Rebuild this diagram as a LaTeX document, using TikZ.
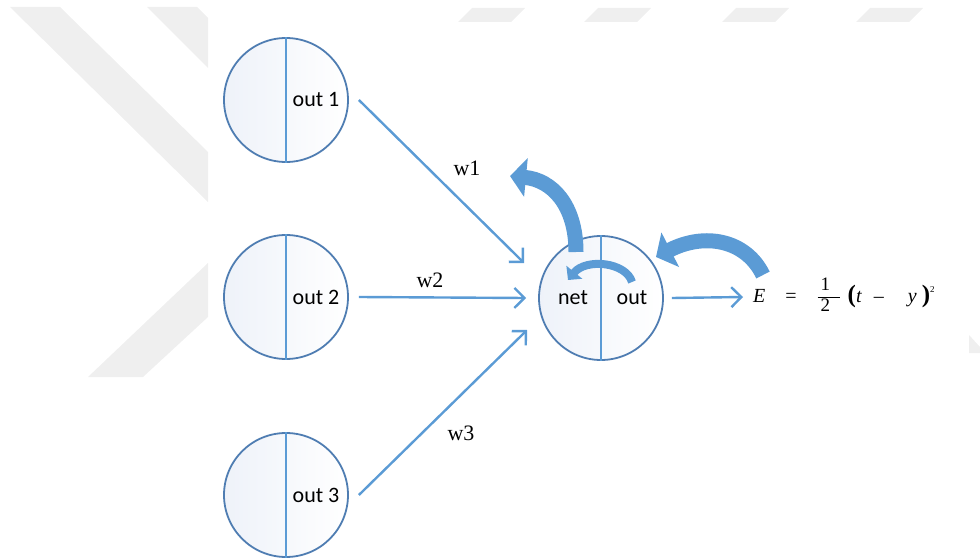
\documentclass[tikz,border=0pt]{standalone}
\usepackage{fontspec}
\setmainfont{Liberation Serif}
\newfontfamily\calibri{Carlito}
\usepackage{xcolor}
\definecolor{rimblue}{RGB}{79,125,178}
\definecolor{wireblue}{RGB}{91,155,213}
\definecolor{cellfill}{RGB}{238,242,249}
\definecolor{markgray}{RGB}{239,239,239}
\usetikzlibrary{arrows.meta, positioning, calc}

\tikzset{
  neuron/.style={circle, minimum size=124pt, inner sep=0pt, draw=rimblue, line width=1.8pt,
    left color=cellfill, right color=white},
  divider/.style={line width=2.4pt, color=wireblue},
  wire/.style={-{Straight Barb[length=10pt,width=20pt]}, line width=2.4pt, color=wireblue},
  bendarrow/.style={-{Triangle[length=16pt,width=38pt]}, line width=15pt, color=wireblue},
  cellname/.style={font=\calibri\fontsize{22}{26}\selectfont},
  wlabel/.style={font=\fontsize{22}{26}\selectfont}
}
\newcommand{\digit}[1]{\makebox[22pt][l]{\hspace{3pt}\fontsize{19}{19}\selectfont #1}}
\newcommand{\half}{{\setlength{\arrayrulewidth}{0.9pt}\renewcommand{\arraystretch}{0.85}%
  \begin{tabular}{@{}l@{}}\digit{1}\\\hline\digit{2}\end{tabular}}}

\begin{document}
\begin{tikzpicture}[x=1pt, y=1pt]
    \useasboundingbox (0,0) rectangle (980,558);

    % Watermark stripes behind the figure
    \fill[markgray] (10,551) -- (60,551) -- (208,406) -- (208,356) -- cycle;
    \fill[markgray] (147,551) -- (197,551) -- (208,540) -- (208,490) -- cycle;
    \fill[markgray] (208,295) -- (208,241) -- (143,181) -- (88,181) -- cycle;
    \foreach \a in {472,598,736,870} {
        \fill[markgray] (\a,550) -- ({\a+53},550) -- ({\a+39},536) -- ({\a-14},536) -- cycle;
    }
    \fill[markgray] (969,223) -- (980,211) -- (980,205) -- (969,205) -- cycle;

    % Cells
    \node[neuron] (in1) at (286,458) {};
    \node[neuron] (in2) at (286,261) {};
    \node[neuron] (in3) at (286,63) {};
    \node[neuron] (sum) at (601,260) {};
    \foreach \n in {in1,in2,in3,sum} {
        \draw[divider] (\n.north) -- (\n.south);
    }
    \foreach \n/\k in {in1/1, in2/2, in3/3} {
        \node[cellname] (lab\k) at ([xshift=30pt]\n.center) {out \k};
    }
    \node[cellname] (netlab) at ([xshift=-28pt]sum.center) {net};
    \node[cellname] (outlab) at ([xshift=31pt]sum.center) {out};

    % Error term
    \node[anchor=west, inner sep=0pt, font=\fontsize{20}{24}\selectfont] (eq) at (753,261)
        {\textit{E}\hspace{20pt}=\hspace{21pt}\half\hspace{8pt}{\fontsize{25}{25}\selectfont\textbf{(}}\textit{t}\hspace{12pt}--\hspace{24pt}\textit{y}\hspace{5pt}{\fontsize{25}{25}\selectfont\textbf{)}}\raisebox{10pt}{\fontsize{9}{9}\selectfont 2}};

    % Weighted connections
    \draw[wire] ([xshift=10pt]in1.east) -- ([shift={(-14,35)}]sum.west);
    \draw[wire] ([xshift=10pt]in2.east) -- ([xshift=-12pt]sum.west);
    \draw[wire] ([xshift=10pt]in3.east) -- ([shift={(-11,-32)}]sum.west);
    \draw[wire] ([xshift=8pt]sum.east) -- ([xshift=-10pt]eq.west);
    \node[wlabel] (w1) at (467,390) {w1};
    \node[wlabel] (w2) at (430,278) {w2};
    \node[wlabel] (w3) at (461,125) {w3};

    % Backpropagation arrows
    \draw[bendarrow] (576,306) .. controls (576,353) and (552,378) .. (510,382);
    \draw[bendarrow, line width=8pt, -{Triangle[length=10pt,width=20pt]}]
        (632,276) .. controls (626,296) and (586,300) .. (568,278);
    \draw[bendarrow] (763,283) .. controls (746,318) and (705,326) .. (656,301);
\end{tikzpicture}
\end{document}
